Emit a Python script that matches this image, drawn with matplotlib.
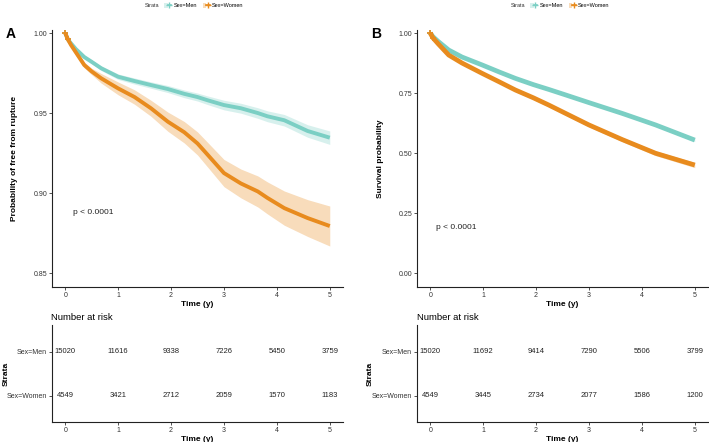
import matplotlib
matplotlib.use("Agg")
import matplotlib.pyplot as plt
from matplotlib.patches import Patch
from matplotlib.lines import Line2D
from matplotlib.legend_handler import HandlerTuple
import numpy as np

plt.rcParams['font.family'] = ['Liberation Sans', 'DejaVu Sans']

# ---------------- data ----------------
strata = ["Sex=Men", "Sex=Women"]

time_a = [0, 0.05, 0.11, 0.2, 0.36, 0.5, 0.68, 1.0, 1.31, 1.62, 1.94, 2.25, 2.5, 2.69,
          3.0, 3.32, 3.64, 3.82, 4.14, 4.58, 5.0]
men_a = [1.0, 0.996, 0.9935, 0.990, 0.985, 0.982, 0.978, 0.9727, 0.970, 0.9675, 0.965,
         0.962, 0.960, 0.958, 0.955, 0.953, 0.950, 0.948, 0.9455, 0.9388, 0.9346]
women_a = [1.0, 0.996, 0.9925, 0.988, 0.980, 0.976, 0.9717, 0.9654, 0.960, 0.953, 0.9446,
           0.938, 0.931, 0.924, 0.9125, 0.906, 0.901, 0.897, 0.8906, 0.8844, 0.8794]
men_a_ci = [0, 0.0006, 0.0008, 0.001, 0.0011, 0.0012, 0.0014, 0.0017, 0.0019, 0.002, 0.0022,
            0.0024, 0.0025, 0.0027, 0.003, 0.0031, 0.0033, 0.0034, 0.0036, 0.0039, 0.0042]
women_a_ci = [0, 0.001, 0.0013, 0.0016, 0.0018, 0.002, 0.003, 0.004, 0.0045, 0.005, 0.006,
              0.0067, 0.0072, 0.0077, 0.0085, 0.009, 0.0097, 0.010, 0.0107, 0.0115, 0.0125]

time_b = [0, 0.05, 0.15, 0.35, 0.6, 0.98, 1.3, 1.61, 1.95, 2.24, 2.56, 3.0, 3.63, 4.26, 5.0]
men_b = [1.0, 0.985, 0.965, 0.929, 0.90, 0.867, 0.838, 0.811, 0.785, 0.765, 0.742, 0.71,
         0.665, 0.617, 0.554]
women_b = [1.0, 0.98, 0.955, 0.908, 0.875, 0.832, 0.797, 0.7625, 0.73, 0.70, 0.665, 0.617,
           0.556, 0.499, 0.45]
men_b_ci = [0, 0.001, 0.002, 0.003, 0.003, 0.004, 0.004, 0.004, 0.005, 0.005, 0.005, 0.005,
            0.006, 0.006, 0.006]
women_b_ci = [0, 0.002, 0.003, 0.005, 0.005, 0.006, 0.006, 0.007, 0.007, 0.008, 0.008, 0.008,
              0.009, 0.010, 0.011]

risk_times = [0, 1, 2, 3, 4, 5]
risk_men_a = [15020, 11616, 9338, 7226, 5450, 3759]
risk_women_a = [4549, 3421, 2712, 2059, 1570, 1183]
risk_men_b = [15020, 11692, 9414, 7290, 5506, 3799]
risk_women_b = [4549, 3445, 2734, 2077, 1586, 1200]

# ---------------- style ----------------
W, H = 709, 442
C_MEN = '#7BCFC4'
C_WOMEN = '#E88B1E'
TICK_C = '#333333'

fig = plt.figure(figsize=(W / 100, H / 100), dpi=100)


def fr(left, top, right, bottom):
    return [left / W, 1 - bottom / H, (right - left) / W, (bottom - top) / H]


def style_axes(ax):
    for s in ['top', 'right']:
        ax.spines[s].set_visible(False)
    for s in ['left', 'bottom']:
        ax.spines[s].set_linewidth(0.8)
        ax.spines[s].set_color('#222222')
    ax.tick_params(axis='both', length=2, width=0.6, color='#333333',
                   labelsize=5, labelcolor=TICK_C, pad=1.5)


def main_panel(axrect, t, men, women, men_ci, women_ci, ylim, yticks, ylabel, pxy,
               letter, letter_x, ylab_x, lw):
    ax = fig.add_axes(axrect)
    style_axes(ax)
    t = np.array(t)
    for vals, ci, col in [(men, men_ci, C_MEN), (women, women_ci, C_WOMEN)]:
        vals = np.array(vals)
        ci = np.array(ci)
        ax.fill_between(t, vals - ci, vals + ci, color=col, alpha=0.3, lw=0)
        ax.plot(t, vals, color=col, lw=lw, solid_capstyle='butt', solid_joinstyle='round')
        ax.plot([t[0], t[1]], [vals[0], vals[1]], ls='none', marker='+', ms=5, mew=1.2, color=col)
    ax.set_xlim(-0.25, 5.25)
    ax.set_ylim(*ylim)
    ax.set_xticks(risk_times)
    ax.set_yticks(yticks)
    ax.set_yticklabels([f"{v:.2f}" for v in yticks])
    ax.set_xlabel("Time (y)", fontsize=6, fontweight='bold', labelpad=1.5)
    ax.set_ylabel(ylabel, fontsize=6, fontweight='bold')
    ax.yaxis.set_label_coords(ylab_x / W, 1 - 158.5 / H, transform=fig.transFigure)
    ax.text(pxy[0], pxy[1], "p < 0.0001", fontsize=6, ha='left', va='center', color='#222222')
    fig.text(letter_x / W, 1 - 34 / H, letter, fontsize=10, fontweight='bold', ha='left', va='center')
    return ax


def risk_panel(axrect, men, women, title_x, ylab_x):
    ax = fig.add_axes(axrect)
    style_axes(ax)
    ax.set_xlim(-0.25, 5.25)
    ax.set_ylim(0.41, 2.61)
    for x, m, w in zip(risk_times, men, women):
        ax.text(x, 2, str(m), ha='center', va='center', fontsize=5.5, color='#222222')
        ax.text(x, 1, str(w), ha='center', va='center', fontsize=5.5, color='#222222')
    ax.set_xticks(risk_times)
    ax.set_yticks([2, 1])
    ax.set_yticklabels(strata)
    ax.set_xlabel("Time (y)", fontsize=6, fontweight='bold', labelpad=1.5)
    ax.set_ylabel("Strata", fontsize=6, fontweight='bold')
    ax.yaxis.set_label_coords(ylab_x / W, 1 - 373.5 / H, transform=fig.transFigure)
    fig.text(title_x / W, 1 - 318 / H, "Number at risk", fontsize=6.8, ha='left', va='center')
    return ax


def legend(cx_strata, cx_legend):
    fig.text(cx_strata / W, 1 - 5.5 / H, "Strata", fontsize=4, ha='left', va='center', color='#333333')
    handles = []
    for col in [C_MEN, C_WOMEN]:
        p = Patch(facecolor=col, alpha=0.3, edgecolor='none')
        l = Line2D([], [], color=col, lw=1.2, marker='+', ms=4, mew=1)
        handles.append((p, l))
    fig.legend(handles, strata, loc='center left', bbox_to_anchor=(cx_legend / W, 1 - 5.5 / H),
               ncol=2, frameon=False, fontsize=4, handlelength=1.3, handleheight=0.9,
               handletextpad=0.4, columnspacing=1.0, borderpad=0, borderaxespad=0,
               handler_map={tuple: HandlerTuple(ndivide=None)})


# Panel A
main_panel(fr(52, 30, 343, 287), time_a, men_a, women_a, men_a_ci, women_a_ci,
           (0.8413, 1.0019), [0.85, 0.90, 0.95, 1.00], "Probability of free from rupture",
           (0.15, 0.888), "A", 6, 18.5, 2.8)
risk_panel(fr(52, 325, 343, 422), risk_men_a, risk_women_a, 51, 10)
legend(145, 164)

# Panel B
main_panel(fr(417, 30, 708, 287), time_b, men_b, women_b, men_b_ci, women_b_ci,
           (-0.058, 1.0125), [0.0, 0.25, 0.50, 0.75, 1.00], "Survival probability",
           (0.1, 0.19), "B", 371, 383.5, 3.4)
risk_panel(fr(417, 325, 708, 422), risk_men_b, risk_women_b, 417, 374)
legend(511, 530)

fig.savefig("out.png", dpi=100)
